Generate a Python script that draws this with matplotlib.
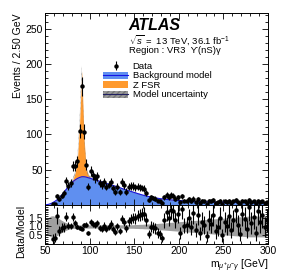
import numpy as np
import matplotlib
matplotlib.use('Agg')
import matplotlib.pyplot as plt
from matplotlib.patches import Patch
from matplotlib.lines import Line2D
from matplotlib.ticker import MultipleLocator, FixedLocator, FormatStrFormatter

plt.rcParams['font.family'] = ['Liberation Sans', 'DejaVu Sans']
plt.rcParams['mathtext.fontset'] = 'custom'
plt.rcParams['mathtext.rm'] = 'Liberation Sans'
plt.rcParams['mathtext.it'] = 'Liberation Sans:italic'

# bin edges 50..300 in 2.5 GeV steps
edges = np.arange(50, 300.01, 2.5)
centers = 0.5 * (edges[:-1] + edges[1:])

# background model per bin
bkg = [0.3, 0.8, 1.8, 3.3, 5.2, 7.5, 10.5, 14, 18, 22,
       26, 30, 33, 35.5, 37.5, 39, 40, 40, 39.5, 38.5,
       37.5, 36.5, 35.5, 34.5, 33.5, 32.5, 31.5, 30.5, 29.5, 28.5,
       27.5, 26.5, 25.5, 24.5, 23.3, 22.2, 21.2, 20.2, 19.2, 18.2,
       17.2, 16.2, 15.2, 14.3, 13.4, 12.6, 11.9, 11.2, 10.6, 10.0,
       9.5, 9.0, 8.6, 8.2, 7.8, 7.5, 7.2, 6.9, 6.6, 6.4,
       6.2, 6.0, 5.8, 5.6, 5.45, 5.3, 5.15, 5.0, 4.9, 4.8,
       4.7, 4.6, 4.5, 4.4, 4.3, 4.2, 4.15, 4.1, 4.05, 4.0,
       3.95, 3.9, 3.85, 3.8, 3.75, 3.7, 3.65, 3.6, 3.55, 3.5,
       3.45, 3.4, 3.35, 3.3, 3.25, 3.2, 3.15, 3.1, 3.05, 3.0]

# Z FSR component per bin (stacked on background)
zfsr = [0] * 11 + [0.5, 3, 10, 25, 76, 150, 55, 12, 3, 1] + [0] * 79

# relative model uncertainty per bin
rel_unc = [0.3, 0.5, 0.58, 0.6, 0.56, 0.5, 0.42, 0.34, 0.27, 0.21,
           0.16, 0.13, 0.11, 0.1, 0.09, 0.09, 0.09, 0.09, 0.09, 0.09,
           0.09, 0.09, 0.09, 0.09, 0.09, 0.09, 0.09, 0.09, 0.09, 0.09,
           0.09, 0.09, 0.09, 0.09, 0.09, 0.1, 0.1, 0.1, 0.1, 0.1,
           0.11, 0.11, 0.12, 0.12, 0.13, 0.13, 0.14, 0.14, 0.15, 0.16,
           0.17, 0.18, 0.19, 0.2, 0.21, 0.22, 0.23, 0.24, 0.25, 0.26,
           0.27, 0.28, 0.29, 0.3, 0.31, 0.32, 0.33, 0.34, 0.35, 0.36,
           0.37, 0.38, 0.39, 0.4, 0.41, 0.42, 0.43, 0.44, 0.45, 0.46,
           0.47, 0.48, 0.49, 0.5, 0.51, 0.52, 0.53, 0.54, 0.55, 0.56,
           0.57, 0.58, 0.58, 0.58, 0.58, 0.58, 0.58, 0.58, 0.58, 0.58]

# observed events per bin
data = [0, 0, 0, 1, 2, 12, 8, 13, 17, 34,
        27, 31, 55, 55, 62, 105, 168, 104, 57, 26,
        48, 42, 38, 41, 31, 28, 33, 26, 29, 33,
        24, 18, 26, 18, 33, 28, 19, 26, 27, 27,
        25, 26, 25, 24, 23, 17, 7, 11, 10, 9,
        6, 5, 3, 11, 14, 11, 14, 13, 9, 11,
        4, 12, 6, 6, 8, 5, 9, 4, 8, 3,
        6, 5, 2, 6, 5, 7, 3, 4, 6, 2,
        5, 4, 6, 3, 5, 7, 4, 2, 6, 5,
        3, 7, 4, 5, 2, 6, 4, 5, 3, 4]

bkg = np.array(bkg)
zfsr = np.array(zfsr)
total = bkg + zfsr
unc = np.array(rel_unc)
data = np.array(data, dtype=float)
mask = data > 0

fig = plt.figure(figsize=(2.83, 2.74), dpi=100)
ax = fig.add_axes([0.159, 0.252, 0.788, 0.700])
rax = fig.add_axes([0.159, 0.108, 0.788, 0.144], sharex=ax)

blue_fill = '#5f8ff0'
orange = '#ff9a2e'

ax.fill_between(centers, 0, total, color=orange, lw=0)
ax.fill_between(centers, 0, bkg, color=blue_fill, lw=0)
ax.plot(centers, bkg, color='#1414e6', lw=0.8)
ax.fill_between(centers, total * (1 - 0.04), total * (1 + 0.04), facecolor='#999999',
                edgecolor='#777777', hatch='//////', lw=0, alpha=0.6)
ax.errorbar(centers[mask], data[mask], yerr=np.sqrt(data[mask]), fmt='o', color='black',
            ms=2.2, lw=0.8, capsize=0)

ax.set_xlim(50, 300)
ax.set_ylim(0, 272)
ax.yaxis.set_major_locator(FixedLocator([50, 100, 150, 200, 250]))
ax.yaxis.set_minor_locator(MultipleLocator(10))
ax.xaxis.set_major_locator(MultipleLocator(50))
ax.xaxis.set_minor_locator(MultipleLocator(10))
for a in (ax, rax):
    a.tick_params(which='both', direction='in', top=True, right=True, labelsize=7.5, pad=1.5)
    a.tick_params(which='major', length=4, width=0.6)
    a.tick_params(which='minor', length=2, width=0.6)
    for s in a.spines.values():
        s.set_linewidth(0.7)
ax.tick_params(labelbottom=False)
ax.set_ylabel('Events / 2.50 GeV', fontsize=7.5, loc='top', labelpad=2)

ax.text(0.375, 0.935, 'ATLAS', transform=ax.transAxes, fontsize=11.5, fontweight='bold',
        fontstyle='italic', va='center')
ax.text(0.375, 0.86, r'$\sqrt{s}$ =  13 TeV, 36.1 fb$^{-1}$', transform=ax.transAxes,
        fontsize=6.8, va='center')
ax.text(0.375, 0.805, 'Region : VR3  \u03d2(nS)\u03b3', transform=ax.transAxes,
        fontsize=6.8, va='center', family=['Liberation Sans', 'DejaVu Sans'])

h_data = ax.errorbar([], [], yerr=[], fmt='o', color='black', ms=2.2, lw=0.8)
h_bkg = (Patch(facecolor=blue_fill, lw=0), Line2D([], [], color='#1414e6', lw=0.8))
h_z = Patch(facecolor=orange, lw=0)
h_unc = (Patch(facecolor='#999999', edgecolor='#777777', hatch='//////', lw=0),
         Line2D([], [], color='#202060', lw=0.8))
ax.legend([h_data, h_bkg, h_z, h_unc],
          ['Data', 'Background model', 'Z FSR', 'Model uncertainty'],
          loc='upper left', bbox_to_anchor=(0.24, 0.77), frameon=False, fontsize=6.8,
          handlelength=2.6, handleheight=0.8, labelspacing=0.05, borderpad=0,
          handletextpad=0.5)

# ratio panel
ratio = data / total
rerr = np.sqrt(data) / total
rax.fill_between(centers, 1 - unc, 1 + unc, color='#a0a0a0', lw=0)
rax.errorbar(centers[mask], ratio[mask], yerr=rerr[mask], fmt='o', color='black',
             ms=2.2, lw=0.8, capsize=0)
rax.set_ylim(0, 2.2)
rax.yaxis.set_major_locator(FixedLocator([0.5, 1.0, 1.5]))
rax.yaxis.set_minor_locator(MultipleLocator(0.1))
rax.yaxis.set_major_formatter(FormatStrFormatter('%.1f'))
rax.set_ylabel('Data/Model', fontsize=7.5, loc='top', labelpad=2)
rax.set_xlabel(r'm$_{\mu^{+}\mu^{-}\gamma}$ [GeV]', fontsize=7.5, loc='right', labelpad=1)

fig.savefig('out.png', dpi=100)
